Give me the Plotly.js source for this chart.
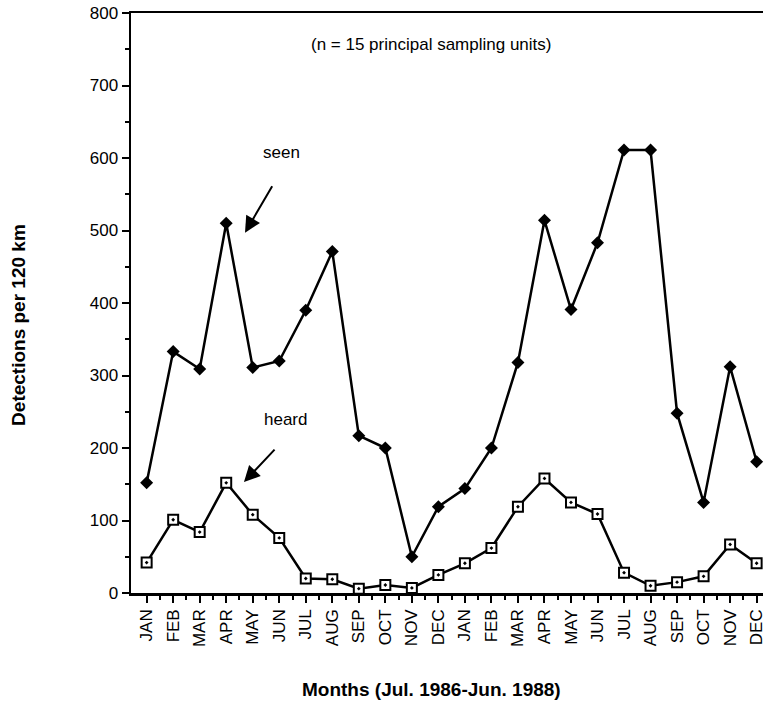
<!DOCTYPE html>
<html>
<head>
<meta charset="utf-8">
<script src="https://cdn.plot.ly/plotly-3.0.1.min.js"></script>
<style>
html,body{margin:0;padding:0;background:#fff;}
#chart{width:766px;height:707px;}
</style>
</head>
<body>
<div id="chart"></div>
<script>
// Months from Jul. 1986 to Jun. 1988 as labelled on the chart
const months = ["JAN","FEB","MAR","APR","MAY","JUN","JUL","AUG","SEP","OCT","NOV","DEC",
                "JAN","FEB","MAR","APR","MAY","JUN","JUL","AUG","SEP","OCT","NOV","DEC"];
const seen  = [152, 333, 309, 510, 311, 320, 390, 471, 217, 200, 50, 119,
               144, 200, 318, 514, 391, 483, 611, 611, 248, 125, 312, 181];
const heard = [42, 101, 84, 152, 108, 76, 20, 19, 6, 11, 7, 25,
               41, 62, 119, 158, 125, 109, 28, 10, 15, 23, 67, 41];

const idx = months.map((_, i) => i);
const halfTicks = idx.slice(0, -1).map(i => i + 0.5);

const font = "'Liberation Sans', Arial, Helvetica, sans-serif";

const traces = [
  {
    x: idx, y: seen, type: 'scatter', mode: 'lines+markers', name: 'seen',
    line: {color: '#000', width: 2.5},
    marker: {symbol: 'diamond', size: 10, color: '#000'},
    cliponaxis: false
  },
  {
    x: idx, y: heard, type: 'scatter', mode: 'lines+markers', name: 'heard',
    line: {color: '#000', width: 2.5},
    marker: {symbol: 'square-dot', size: 10, color: '#fff', line: {color: '#000', width: 2}},
    cliponaxis: false
  }
];

const layout = {
  width: 766, height: 707,
  margin: {l: 131, r: 3, t: 13, b: 114},
  paper_bgcolor: '#fff', plot_bgcolor: '#fff',
  showlegend: false,
  font: {family: font, color: '#000', size: 16},
  xaxis: {
    range: [-0.59, 23.24],
    tickmode: 'array', tickvals: idx, ticktext: months,
    tickangle: -90,
    ticklabeloverflow: 'allow',
    ticks: 'outside', ticklen: 7, tickwidth: 2, tickcolor: '#000',
    minor: {tickmode: 'array', tickvals: halfTicks, ticks: 'outside', ticklen: 4, tickwidth: 2, tickcolor: '#000'},
    showline: true, linewidth: 2.5, linecolor: '#000', mirror: true,
    showgrid: false, zeroline: false,
    tickfont: {family: font, size: 17, color: '#000'}
  },
  yaxis: {
    range: [0, 800], dtick: 100, tick0: 0,
    ticks: 'outside', ticklen: 7, tickwidth: 2, tickcolor: '#000',
    minor: {dtick: 50, ticks: 'outside', ticklen: 4, tickwidth: 2, tickcolor: '#000'},
    showline: true, linewidth: 2.5, linecolor: '#000',
    showgrid: false, zeroline: false,
    tickfont: {family: font, size: 17, color: '#000'}
  },
  annotations: [
    {x: -0.179, y: 0.462, xref: 'paper', yref: 'paper', text: '<b>Detections per 120 km</b>', textangle: -90,
     showarrow: false, xanchor: 'center', yanchor: 'middle', font: {family: font, size: 19, color: '#000'}},
    {x: 0.4747, y: -0.167, xref: 'paper', yref: 'paper', text: '<b>Months (Jul. 1986-Jun. 1988)</b>',
     showarrow: false, xanchor: 'center', yanchor: 'middle', font: {family: font, size: 19, color: '#000'}},
    {x: 10.73, y: 756, xref: 'x', yref: 'y', text: '(n = 15 principal sampling units)', showarrow: false,
     font: {family: font, size: 17, color: '#000'}},
    {x: 5.1, y: 607, xref: 'x', yref: 'y', text: 'seen', showarrow: false,
     font: {family: font, size: 17, color: '#000'}},
    {x: 3.71, y: 497, xref: 'x', yref: 'y', text: '', showarrow: true,
     ax: 28, ay: -48, arrowhead: 2, arrowsize: 1.6, arrowwidth: 2, arrowcolor: '#000'},
    {x: 5.22, y: 239, xref: 'x', yref: 'y', text: 'heard', showarrow: false,
     font: {family: font, size: 17, color: '#000'}},
    {x: 3.67, y: 153, xref: 'x', yref: 'y', text: '', showarrow: true,
     ax: 32, ay: -34, arrowhead: 2, arrowsize: 1.6, arrowwidth: 2, arrowcolor: '#000'}
  ]
};

Plotly.newPlot('chart', traces, layout, {displayModeBar: false, staticPlot: true});
</script>
</body>
</html>
